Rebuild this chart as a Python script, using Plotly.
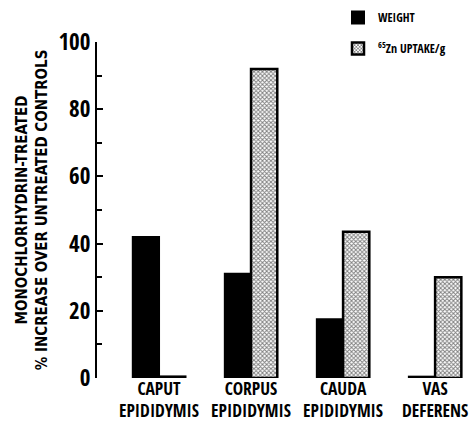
import plotly.graph_objects as go

categories = ["CAPUT<br>EPIDIDYMIS", "CORPUS<br>EPIDIDYMIS", "CAUDA<br>EPIDIDYMIS", "VAS<br>DEFERENS"]
weight = [42, 31, 17.5, 0.4]
zn_uptake = [0.4, 92, 43.5, 30]
series_names = ["WEIGHT", "<sup>65</sup>Zn UPTAKE/g"]
y_ticks = [0, 20, 40, 60, 80, 100]

FONT = "Open Sans Condensed, Roboto Condensed, DejaVu Sans Condensed, sans-serif"
TITLE_FONT = "DejaVu Sans Condensed, Open Sans Condensed, sans-serif"

fig = go.Figure()
fig.add_trace(go.Bar(
    x=list(range(len(categories))), y=weight, name=series_names[0], legendgroup="w",
    marker=dict(color="black", line=dict(color="black", width=2)),
))
fig.add_trace(go.Bar(
    x=list(range(len(categories))), y=zn_uptake, name=series_names[1], legendgroup="z",
    marker=dict(color="#9a9a9a", line=dict(color="black", width=2.5),
                pattern=dict(shape="x", size=3, solidity=0.55, fgcolor="#000000", bgcolor="#ffffff")),
))

fig.update_layout(
    width=471, height=425,
    margin=dict(l=97, r=0, t=42, b=47, autoexpand=False),
    paper_bgcolor="white", plot_bgcolor="white",
    barmode="group", bargap=0.43, bargroupgap=0,
    font=dict(family=FONT, color="black", size=14, weight="bold"),
    showlegend=True,
    legend=dict(xref="container", yref="container", x=338 / 471, y=1 - 3 / 425,
                xanchor="left", yanchor="top", bgcolor="rgba(0,0,0,0)",
                font=dict(size=12, family=FONT, weight="bold"), itemwidth=30,
                tracegroupgap=12, traceorder="grouped"),
    xaxis=dict(
        range=[-0.674, 3.39], tickmode="array", tickvals=list(range(len(categories))),
        ticktext=categories, showline=False, showgrid=False, zeroline=False, ticks="",
        tickangle=0, automargin=False, ticklabelstandoff=-2,
        tickfont=dict(size=17.5, family=FONT, weight="bold"),
    ),
    yaxis=dict(
        range=[0, 100], tickmode="array", tickvals=y_ticks, ticktext=[str(v) for v in y_ticks],
        showline=True, linecolor="black", linewidth=2, showgrid=False, zeroline=False,
        ticks="inside", ticklen=6, tickwidth=2, tickcolor="black", automargin=False,
        minor=dict(dtick=10, ticks="inside", ticklen=5, tickwidth=1.5, tickcolor="black"),
        tickfont=dict(size=23, family=FONT, weight="bold"),
    ),
    annotations=[
        dict(text="MONOCHLORHYDRIN-TREATED<br>% INCREASE OVER UNTREATED CONTROLS",
             xref="paper", yref="paper", x=-0.173, y=0.5, xanchor="center", yanchor="middle",
             textangle=-90, showarrow=False,
             font=dict(size=15, family=TITLE_FONT, weight="bold"), align="center"),
    ],
)

fig.write_html("out.html", config={"displayModeBar": False},
               post_script="document.body.style.margin='0';")
